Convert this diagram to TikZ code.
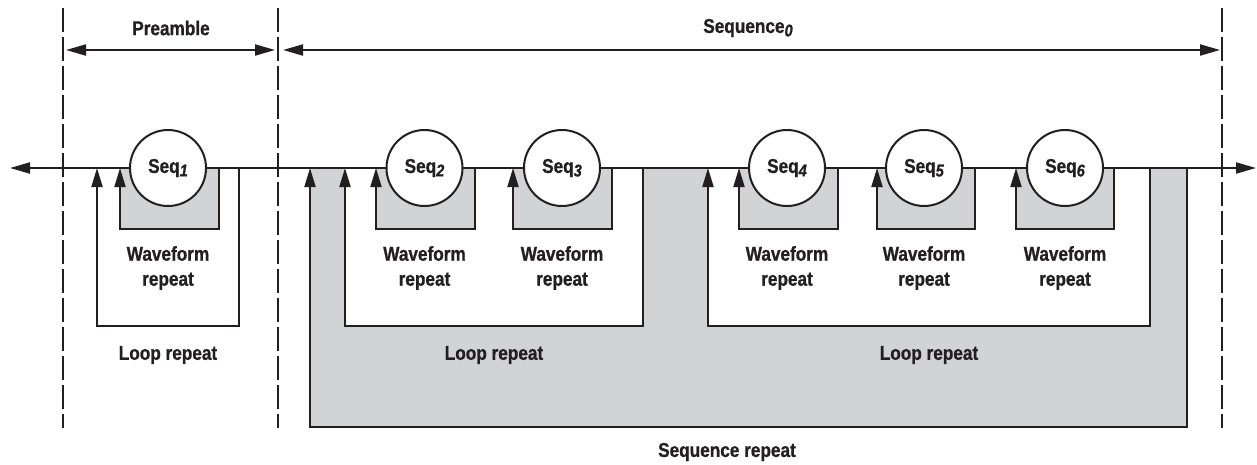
\documentclass[tikz,border=0pt]{standalone}
\usepackage{fontspec}
\setmainfont{Liberation Sans}[FakeStretch=0.86, BoldFeatures={FakeBold=0.8}, BoldItalicFeatures={FakeBold=0.8}]
\usetikzlibrary{arrows.meta}
\definecolor{boxgray}{RGB}{210,211,213}
\definecolor{ink}{RGB}{35,31,32}
\newcommand{\seqlab}[1]{Seq\raisebox{-3.5pt}{\fontsize{17}{17}\selectfont\itshape #1}}
\begin{document}
\begin{tikzpicture}[x=1pt,y=-1pt,
  line width=2pt, draw=ink,
  tipend/.style={-{Triangle[length=19pt,width=11pt]}},
  tipboth/.style={{Triangle[length=20pt,width=11pt]}-{Triangle[length=20pt,width=11pt]}},
  lbl/.style={font=\bfseries\fontsize{20}{25}\selectfont, text=ink, align=center, inner sep=0pt},
  seqc/.style={circle, draw=ink, fill=white, line width=2pt, minimum size=76pt, inner sep=0pt,
    font=\bfseries\fontsize{20}{20}\selectfont, text=ink},
  divider/.style={line width=2.8pt, draw=ink, dash pattern=on 24pt off 5pt},
  grayarea/.style={fill=boxgray, draw=ink, line width=2pt}]
\useasboundingbox (0,0) rectangle (1257,464);

% sequence repeat area
\coordinate (srTL) at (310,168);
\coordinate (srBR) at (1187,427);
\fill[boxgray] (srTL) rectangle (srBR);
\draw[tipend] (1187,168) -- (srBR) -- (310,427) -- (srTL);

% loop repeat boxes
\fill[white] (345,168) rectangle (643,326);
\fill[white] (708,168) rectangle (1150,326);
\draw[tipend] (239,168) -- (239,326) -- (97,326) -- (97,168);
\draw[tipend] (643,168) -- (643,326) -- (345,326) -- (345,168);
\draw[tipend] (1150,168) -- (1150,326) -- (708,326) -- (708,168);

% waveform repeat boxes
\foreach \n/\c/\l/\r in {1/168/120/219, 2/424.5/376/475, 3/562/513/612, 4/787/739/838, 5/924/877/975, 6/1065/1016/1114}{
  \fill[boxgray] (\l,168) rectangle (\r,229);
  \draw[tipend] (\r,168) -- (\r,229) -- (\l,229) -- (\l,168);
}

% main line
\coordinate (lend) at (10,168);
\coordinate (rend) at (1256,168);
\draw[tipboth] (lend) -- (rend);

% sequence circles and labels
\foreach \n/\c in {1/168, 2/424.5, 3/562, 4/787, 5/924, 6/1065}{
  \node[seqc] (seq\n) at (\c,168) {\seqlab{\n}};
  \node[lbl] (wf\n) at (\c,268) {Waveform\\repeat};
}

% dividers
\draw[divider] (63,8) -- (63,428);
\draw[divider] (278,8) -- (278,428);
\draw[divider] (1222,8) -- (1222,428);

% spans
\coordinate (preL) at (66,50);
\coordinate (preR) at (275,50);
\coordinate (seqL) at (283,50);
\coordinate (seqR) at (1220,50);
\draw[tipboth] (preL) -- (preR);
\draw[tipboth] (seqL) -- (seqR);
\node[lbl] (pre) at (171,28) {Preamble};
\node[lbl] (seq0) at (748,28) {Sequence\raisebox{-3.5pt}{\fontsize{17}{17}\selectfont\itshape 0}};

% repeat labels
\node[lbl] (lr1) at (168,355) {Loop repeat};
\node[lbl] (lr2) at (494,355) {Loop repeat};
\node[lbl] (lr3) at (929,355) {Loop repeat};
\node[lbl] (sr) at (727,452) {Sequence repeat};
\end{tikzpicture}
\end{document}
